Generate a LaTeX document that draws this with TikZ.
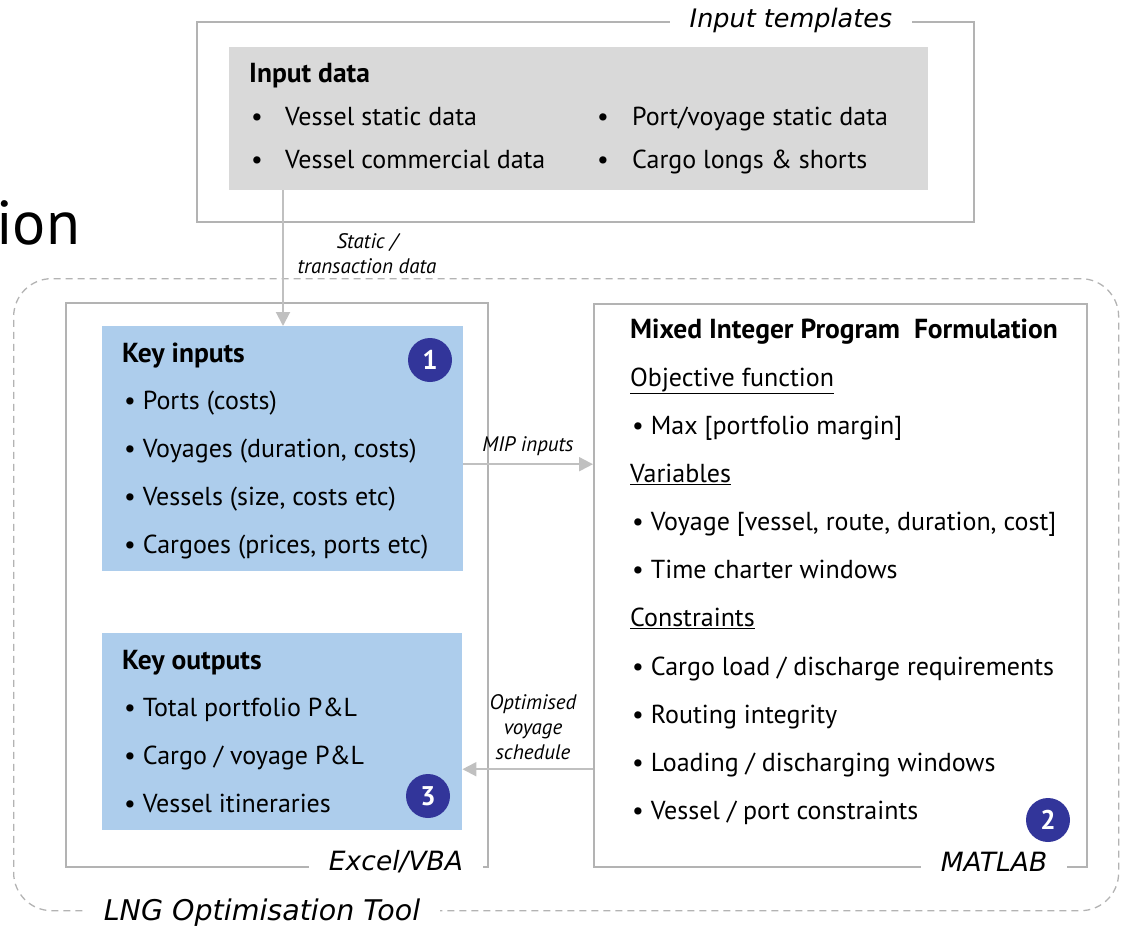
\documentclass[tikz,border=0pt]{standalone}
\usepackage{fontspec}
\setmainfont{PT Sans}
\newfontfamily\labelfont{DejaVu Sans}
\usetikzlibrary{arrows.meta}

\definecolor{framegray}{HTML}{B3B3B3}
\definecolor{datagray}{HTML}{D9D9D9}
\definecolor{keyblue}{HTML}{ADCDEC}
\definecolor{badgeblue}{HTML}{32359A}
\definecolor{arrowgray}{HTML}{C0C0C0}

\tikzset{
  frame/.style={draw=framegray, line width=1.5, anchor=north west, inner sep=0},
  toolframe/.style={draw=framegray, line width=1.3, dash pattern=on 7 off 5, rounded corners=38, anchor=north west, inner sep=0},
  fillbox/.style={fill=#1, anchor=north west, inner sep=0},
  framelabel/.style={fill=white, inner xsep=20, inner ysep=2, font=\labelfont\fontsize{26.5}{30}\selectfont\itshape},
  txt/.style={anchor=base west, inner sep=0, font=\fontsize{26}{30}\selectfont},
  head/.style={txt, font=\fontsize{27.5}{30}\selectfont\bfseries},
  arrlabel/.style={align=center, inner sep=0, font=\fontsize{21}{25}\selectfont\itshape},
  badge/.style={circle, fill=badgeblue, minimum size=44, inner sep=0, text=white, font=\fontsize{27}{27}\selectfont\bfseries},
  arr/.style={draw=arrowgray, line width=2, -{Triangle[length=14, width=14]}}
}

\begin{document}
\begin{tikzpicture}[x=1pt, y=-1pt]
\useasboundingbox (0,0) rectangle (1124,930);

% leftover slide title
\node[anchor=base west, inner sep=0, font=\fontsize{62}{62}\selectfont] (title) at (-4,244) {ion};

% input templates
\node[frame, minimum width=777, minimum height=200] (templ) at (196,21) {};
\node[framelabel, font=\labelfont\fontsize{25.5}{30}\selectfont\itshape] (templlab) at (791,20) {Input templates};
\node[fillbox=datagray, minimum width=699, minimum height=143] (indata) at (229,47) {};
\node[head] (indatahead) at (249,82) {Input data};
\foreach \n/\y/\t in {a/125/{Vessel static data}, b/168/{Vessel commercial data}} {
  \node[txt] (dotl\n) at (251,\y) {\textbullet};
  \node[txt] (datal\n) at (285,\y) {\t};
}
\foreach \n/\y/\t in {a/125/{Port/voyage static data}, b/168/{Cargo longs \& shorts}} {
  \node[txt] (dotr\n) at (597,\y) {\textbullet};
  \node[txt] (datar\n) at (632,\y) {\t};
}

% LNG tool
\node[toolframe, minimum width=1105, minimum height=632] (tool) at (13,278) {};
\node[framelabel, font=\labelfont\fontsize{28.5}{32}\selectfont\itshape] (toollab) at (262,913) {LNG Optimisation Tool};

% Excel/VBA side
\node[frame, minimum width=422, minimum height=564] (excel) at (65,302) {};
\node[framelabel] (excellab) at (396,862) {Excel/VBA};
\node[fillbox=keyblue, minimum width=361, minimum height=245] (keyin) at (102,326) {};
\node[head] (keyinhead) at (122,362) {Key inputs};
\node[badge] (one) at (430,360) {1};
\foreach \y/\t [count=\i] in {409/{Ports (costs)}, 457/{Voyages (duration, costs)}, 505/{Vessels (size, costs etc)}, 553/{Cargoes (prices, ports etc)}}
  \node[txt] (keyin\i) at (124,\y) {\textbullet\ \t};

\node[fillbox=keyblue, minimum width=360, minimum height=197] (keyout) at (102,633) {};
\node[head] (keyouthead) at (122,669) {Key outputs};
\node[badge] (three) at (428,796) {3};
\foreach \y/\t [count=\i] in {716/{Total portfolio P\&L}, 764/{Cargo / voyage P\&L}, 812/{Vessel itineraries}}
  \node[txt] (keyout\i) at (124,\y) {\textbullet\ \t};

% MATLAB side
\node[frame, minimum width=493, minimum height=563] (mip) at (593,303) {};
\node[framelabel] (miplab) at (994,862) {MATLAB};
\node[head] (miphead) at (630,338) {Mixed Integer Program\ \ Formulation};
\node[txt] (objhead) at (630,386) {\underline{Objective function}};
\node[txt] (obj1) at (632,434) {\textbullet\ Max [portfolio margin]};
\node[txt] (varhead) at (630,482) {\underline{Variables}};
\foreach \y/\t [count=\i] in {530/{Voyage [vessel, route, duration, cost]}, 578/{Time charter windows}}
  \node[txt] (var\i) at (632,\y) {\textbullet\ \t};
\node[txt] (conhead) at (630,626) {\underline{Constraints}};
\foreach \y/\t [count=\i] in {675/{Cargo load / discharge requirements}, 723/{Routing integrity}, 771/{Loading / discharging windows}, 819/{Vessel / port constraints}}
  \node[txt] (con\i) at (632,\y) {\textbullet\ \t};
\node[badge] (two) at (1048,820) {2};

% connectors
\draw[arr] ([xshift=54]indata.south west) -- ([xshift=54]indata.south west |- keyin.north);
\node[arrlabel] (statlab) at (367,254) {Static /\\transaction data};
\draw[arr] ([yshift=-15.5]keyin.east) -- ([yshift=-15.5]keyin.east -| mip.west);
\node[arrlabel] (miplab2) at (528,446) {MIP inputs};
\draw[arr] ([yshift=-37.5]keyout.east -| mip.west) -- ([yshift=-37.5]keyout.east);
\node[arrlabel] (optlab) at (533,727) {Optimised\\voyage\\schedule};
\end{tikzpicture}
\end{document}
